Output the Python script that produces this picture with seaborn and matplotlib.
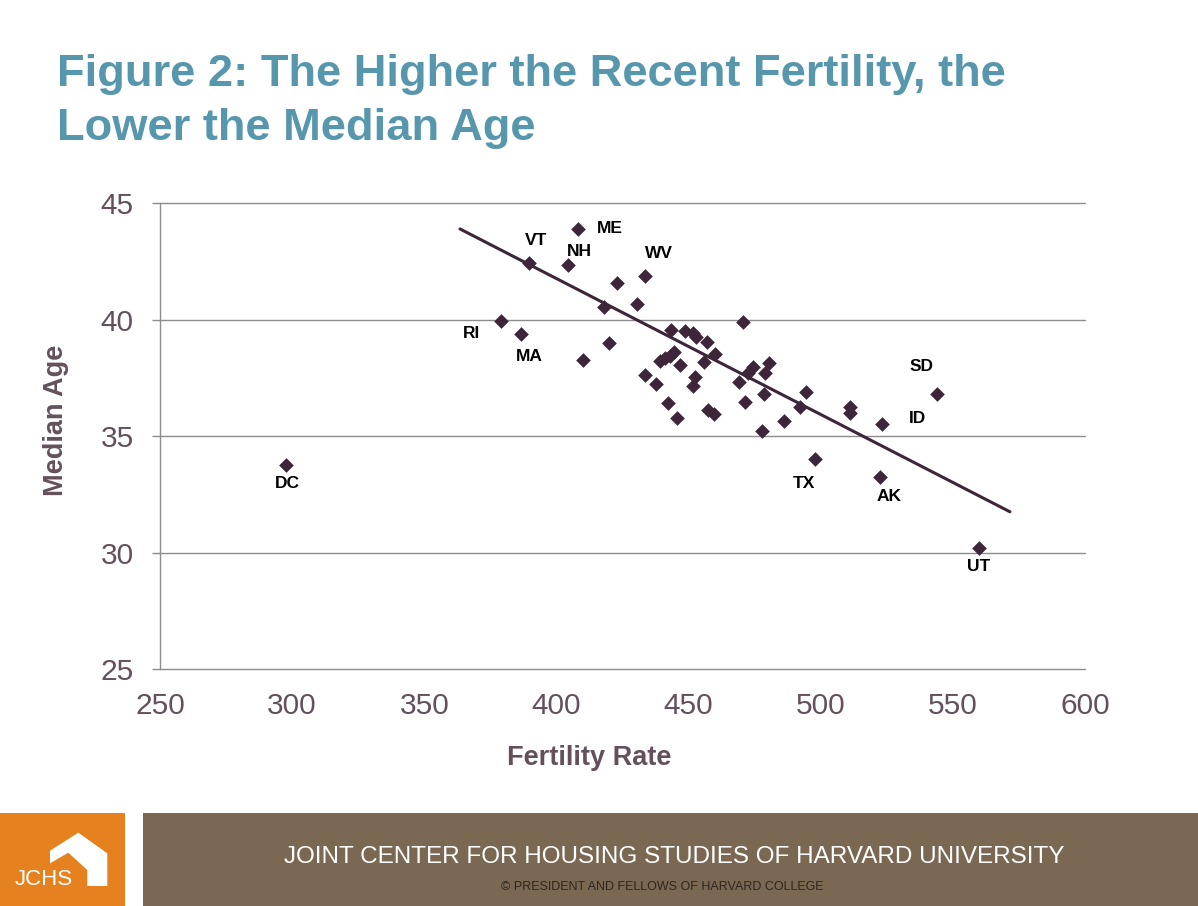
import numpy as np
import pandas as pd
import matplotlib
matplotlib.use('Agg')
import matplotlib.pyplot as plt
from matplotlib.patches import Rectangle, Polygon
import seaborn as sns

# Fertility rate vs median age by state
fert = [297.7, 379.0, 386.6, 389.6, 404.4, 408.2, 433.7, 560.0, 544.1, 523.0, 522.6, 498.0,
        423.0, 430.3, 418.0, 420.0, 409.9, 443.3, 448.6, 451.8, 452.8, 457.1, 470.7, 460.0,
        456.0, 444.6, 443.0, 441.1, 439.2, 446.8, 433.6, 437.7, 452.4, 451.8, 442.1, 445.7,
        457.5, 459.6, 474.5, 472.6, 480.4, 479.0, 469.2, 478.6, 471.4, 494.6, 492.2, 486.1,
        477.8, 511.1, 511.1]
age = [33.77, 39.95, 39.39, 42.44, 42.35, 43.90, 41.88, 30.19, 36.82, 35.52, 33.27, 34.03,
       41.57, 40.68, 40.54, 38.99, 38.27, 39.56, 39.53, 39.42, 39.27, 39.06, 39.89, 38.53,
       38.20, 38.63, 38.45, 38.36, 38.23, 38.05, 37.62, 37.23, 37.56, 37.17, 36.42, 35.77,
       36.13, 35.96, 37.96, 37.70, 38.13, 37.70, 37.34, 36.80, 36.46, 36.89, 36.27, 35.67,
       35.24, 36.25, 35.99]
state = ['DC', 'RI', 'MA', 'VT', 'NH', 'ME', 'WV', 'UT', 'SD', 'ID', 'AK', 'TX'] + [''] * 39

# trend line end points as drawn on the chart
trend_x = [363.5, 571.6]
trend_y = [43.90, 31.76]

df = pd.DataFrame({'fert': fert, 'age': age, 'state': state})
trend = pd.DataFrame({'fert': trend_x, 'age': trend_y})

sns.set_theme(style='white')
plt.rcParams['font.family'] = ['Liberation Sans', 'DejaVu Sans']

W, H = 1198, 906
fig = plt.figure(figsize=(W / 100, H / 100), dpi=100)

def fx(px):
    return px / W

def fy(py):
    return 1 - py / H

ax = fig.add_axes([fx(160), fy(669.3), (1085 - 160) / W, (669.3 - 203.3) / H])

dot_col = '#3d2639'
grid_col = '#8c8c8c'
axis_txt = '#64505c'

sns.lineplot(data=trend, x='fert', y='age', color=dot_col, linewidth=2.2, ax=ax, zorder=2)
sns.scatterplot(data=df, x='fert', y='age', marker='D', s=56, color=dot_col,
                linewidth=0, ax=ax, zorder=3)

# state labels (offsets in points)
offsets = {'DC': (1, -13), 'RI': (-21, -9), 'MA': (6, -16.5), 'VT': (5, 16.5),
           'NH': (8, 10), 'ME': (23, 0.5), 'WV': (9.5, 16.5), 'SD': (-11.5, 20),
           'ID': (26, 4.3), 'TX': (-8, -18), 'AK': (6.5, -14.4), 'UT': (-0.7, -13)}
for _, r in df[df['state'] != ''].iterrows():
    ax.annotate(r['state'], (r['fert'], r['age']), xytext=offsets[r['state']],
                textcoords='offset points', ha='center', va='center',
                fontsize=12.5, fontweight='bold', color='black')

ax.set_xlim(250, 600)
ax.set_ylim(25, 45)
ax.set_xticks(np.arange(250, 601, 50))
ax.set_yticks(np.arange(25, 46, 5))
ax.grid(axis='y', color=grid_col, linewidth=1.0)
ax.grid(axis='x', visible=False)
for gl in ax.get_ygridlines():
    gl.set_clip_on(False)
for s in ['top', 'right', 'bottom']:
    ax.spines[s].set_visible(False)
ax.spines['left'].set_color(grid_col)
ax.spines['left'].set_linewidth(1.0)
ax.tick_params(axis='y', length=6, width=1.0, color=grid_col, pad=13,
               labelsize=21.5, labelcolor=axis_txt, left=True)
ax.tick_params(axis='x', length=0, pad=16, labelsize=21.5, labelcolor=axis_txt)

ax.set_xlabel('Fertility Rate', fontsize=19.5, fontweight='bold', color=axis_txt)
ax.set_ylabel('Median Age', fontsize=19.5, fontweight='bold', color=axis_txt)
ax.xaxis.set_label_coords(0.4638, -0.190)
ax.xaxis.label.set_va('center')
ax.yaxis.set_label_coords(-0.112, 0.535)
ax.yaxis.label.set_va('center')

fig.text(fx(57), fy(54), 'Figure 2: The Higher the Recent Fertility, the\nLower the Median Age',
         ha='left', va='top', fontsize=32.6, fontweight='bold', color='#5797ae',
         linespacing=1.40)

# footer
fig.add_artist(Rectangle((0, 0), fx(125), 93 / H,
                         transform=fig.transFigure, color='#e5821f', lw=0))
fig.add_artist(Rectangle((fx(143), 0), 1 - fx(143), 93 / H,
                         transform=fig.transFigure, color='#7a6852', lw=0))
house = [(50, 850.7), (50, 863.3), (68.3, 852.7), (87.3, 870), (87.3, 886),
         (107.3, 886), (107.3, 853.3), (78.3, 832.7)]
fig.add_artist(Polygon([(fx(a), fy(b)) for a, b in house], closed=True,
                       transform=fig.transFigure, color='white', lw=0))
fig.text(fx(15), fy(885), 'JCHS', ha='left', va='baseline', fontsize=16,
         color='white')
fig.text(fx(674), fy(857), 'JOINT CENTER FOR HOUSING STUDIES OF HARVARD UNIVERSITY',
         ha='center', va='center', fontsize=17.5, color='white')
fig.text(fx(662), fy(887), '\u00a9 PRESIDENT AND FELLOWS OF HARVARD COLLEGE',
         ha='center', va='center', fontsize=9, color='#2e2620')

fig.savefig('out.png', dpi=100)
